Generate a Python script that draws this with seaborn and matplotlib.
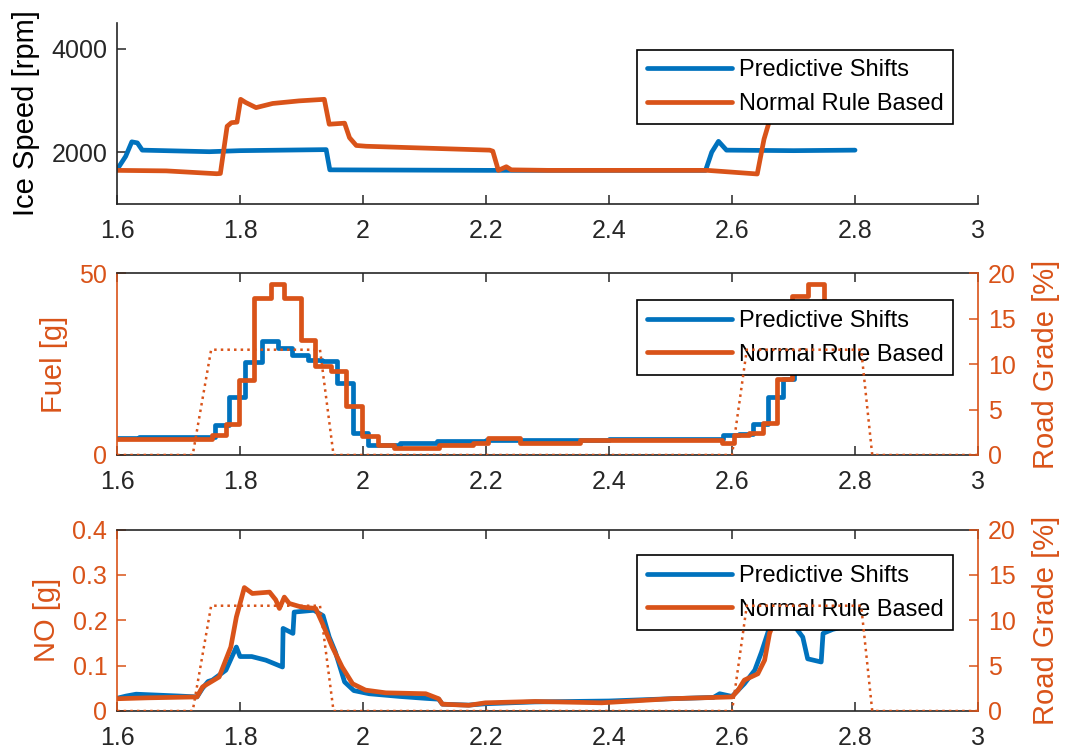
import numpy as np
import matplotlib
matplotlib.use('Agg')
import matplotlib.pyplot as plt
from matplotlib.ticker import FuncFormatter
import seaborn as sns

# colours (MATLAB defaults)
BLUE = '#0072BD'
ORANGE = '#D95319'
DARK = '#262626'

# --- Ice speed [rpm] ---
t_ice_ps = [1.600, 1.614, 1.624, 1.633, 1.641, 1.750, 1.800, 1.940, 1.946, 2.200,
            2.557, 2.567, 2.578, 2.591, 2.700, 2.800]
ice_ps = [1665, 1920, 2200, 2180, 2040, 2010, 2030, 2050, 1660, 1650,
          1650, 2000, 2210, 2040, 2030, 2040]

t_ice_rb = [1.600, 1.680, 1.762, 1.768, 1.779, 1.786, 1.795, 1.801, 1.809, 1.826,
            1.853, 1.896, 1.937, 1.945, 1.970, 1.978, 1.989, 2.005, 2.206, 2.211,
            2.220, 2.233, 2.241, 2.300, 2.560, 2.630, 2.641, 2.652, 2.662, 2.672,
            2.700, 2.750, 2.800]
ice_rb = [1650, 1640, 1585, 1590, 2500, 2570, 2580, 3020, 2960, 2860,
          2940, 2990, 3020, 2540, 2560, 2280, 2130, 2115, 2040, 2020,
          1650, 1720, 1660, 1650, 1650, 1590, 1580, 2250, 2650, 2980,
          3000, 2980, 3020]

# --- Fuel [g] (stepwise) ---
t_fuel_ps = [1.600, 1.635, 1.760, 1.782, 1.808, 1.835, 1.861, 1.885, 1.910, 1.934,
             1.958, 1.984, 2.008, 2.060, 2.120, 2.200, 2.400, 2.586, 2.612, 2.634,
             2.658, 2.683, 2.700, 2.720, 2.745, 2.770, 2.800]
fuel_ps = [4.6, 5.0, 8.3, 16.0, 25.6, 31.3, 29.6, 27.6, 26.3, 26.0,
           19.7, 6.0, 2.8, 3.3, 3.8, 4.2, 4.4, 5.4, 5.8, 8.5,
           16.0, 21.0, 28.0, 31.0, 29.0, 27.0, 27.0]

t_fuel_rb = [1.600, 1.755, 1.777, 1.798, 1.823, 1.850, 1.872, 1.899, 1.922, 1.948,
             1.972, 1.999, 2.024, 2.051, 2.124, 2.179, 2.203, 2.255, 2.353, 2.450,
             2.550, 2.584, 2.604, 2.628, 2.651, 2.673, 2.697, 2.724, 2.749, 2.775,
             2.800]
fuel_rb = [4.3, 5.6, 8.4, 20.6, 43.2, 47.2, 43.2, 31.8, 24.6, 23.2,
           13.5, 5.1, 2.8, 2.0, 2.8, 3.3, 4.6, 3.4, 4.2, 4.0,
           4.2, 3.3, 5.4, 6.0, 8.8, 20.9, 43.7, 47.2, 38.0, 30.0,
           30.0]

# --- NO [g] ---
t_no_ps = [1.600, 1.615, 1.631, 1.700, 1.730, 1.739, 1.748, 1.755, 1.777, 1.794,
           1.800, 1.819, 1.842, 1.869, 1.870, 1.886, 1.888, 1.920, 1.935, 1.945,
           1.955, 1.970, 1.985, 2.010, 2.060, 2.100, 2.123, 2.129, 2.172, 2.200,
           2.280, 2.400, 2.500, 2.570, 2.580, 2.600, 2.620, 2.637, 2.648, 2.660,
           2.680, 2.700, 2.715, 2.723, 2.745, 2.748, 2.764, 2.780]
no_ps = [0.028, 0.033, 0.037, 0.033, 0.031, 0.050, 0.065, 0.068, 0.090, 0.141,
         0.120, 0.120, 0.112, 0.097, 0.182, 0.171, 0.218, 0.222, 0.210, 0.163,
         0.130, 0.064, 0.045, 0.038, 0.032, 0.028, 0.026, 0.015, 0.013, 0.016,
         0.020, 0.022, 0.027, 0.030, 0.038, 0.032, 0.060, 0.090, 0.130, 0.180,
         0.210, 0.190, 0.163, 0.115, 0.108, 0.171, 0.180, 0.185]

t_no_rb = [1.600, 1.650, 1.730, 1.739, 1.766, 1.785, 1.794, 1.807, 1.820, 1.848,
           1.858, 1.864, 1.872, 1.880, 1.900, 1.923, 1.934, 1.950, 1.966, 1.983,
           2.004, 2.037, 2.102, 2.123, 2.129, 2.172, 2.199, 2.280, 2.388, 2.500,
           2.600, 2.610, 2.620, 2.642, 2.653, 2.661, 2.675, 2.700, 2.730, 2.760,
           2.780]
no_rb = [0.027, 0.029, 0.031, 0.053, 0.075, 0.141, 0.207, 0.272, 0.259, 0.262,
         0.245, 0.226, 0.251, 0.237, 0.229, 0.226, 0.193, 0.141, 0.097, 0.060,
         0.046, 0.040, 0.038, 0.027, 0.015, 0.0125, 0.018, 0.021, 0.018, 0.027,
         0.031, 0.046, 0.068, 0.082, 0.112, 0.171, 0.220, 0.250, 0.240, 0.230,
         0.220]

# --- Road grade [%] ---
t_grade = [1.600, 1.723, 1.753, 1.930, 1.952, 2.600, 2.624, 2.810, 2.828, 3.000]
grade = [0, 0, 11.6, 11.6, 0, 0, 11.6, 11.6, 0, 0]

x_ticks = [1.6, 1.8, 2.0, 2.2, 2.4, 2.6, 2.8, 3.0]
labels = ['Predictive Shifts', 'Normal Rule Based']

sns.set_style('ticks')
plt.rcParams['font.family'] = ['Liberation Sans', 'DejaVu Sans']

TICK_FS = 18
LEG_FS = 17
LABEL_FS = 21
LW = 3.4

fig = plt.figure(figsize=(10.67, 7.53), dpi=100)
L, W, H = 0.1097, 0.8069, 0.2410
ax1 = fig.add_axes([L, 0.729, W, H])
ax2 = fig.add_axes([L, 0.3958, W, H])
ax3 = fig.add_axes([L, 0.0558, W, H])


def style_x(ax):
    ax.set_xlim(1.6, 3.0)
    ax.set_xticks(x_ticks)
    ax.xaxis.set_major_formatter(FuncFormatter(lambda v, p: f'{v:g}'))
    ax.tick_params(axis='x', direction='in', length=6.5, width=1.1, colors=DARK,
                   labelsize=TICK_FS, pad=11)


def add_legend(ax, top):
    leg = ax.legend(labels=labels, loc='upper right', bbox_to_anchor=(0.971, top),
                    bbox_transform=ax.transAxes, fontsize=LEG_FS, frameon=True,
                    fancybox=False, framealpha=1, edgecolor='black',
                    labelcolor='black', handlelength=3.6, handletextpad=0.3,
                    labelspacing=0.5, borderpad=0.4, borderaxespad=0)
    leg.get_frame().set_linewidth(1.2)
    return leg


# top: ice speed
sns.lineplot(x=t_ice_ps, y=ice_ps, ax=ax1, color=BLUE, linewidth=LW, estimator=None,
             sort=False, label=labels[0])
sns.lineplot(x=t_ice_rb, y=ice_rb, ax=ax1, color=ORANGE, linewidth=LW, estimator=None,
             sort=False, label=labels[1])
ax1.set_ylim(1000, 4500)
ax1.set_yticks([2000, 4000])
ax1.set_ylabel('Ice Speed [rpm]', fontsize=LABEL_FS, color='black', labelpad=8)
ax1.tick_params(axis='y', direction='in', length=6.5, width=1.1, colors=DARK,
                labelsize=TICK_FS, pad=7)
style_x(ax1)
for s in ['top', 'right']:
    ax1.spines[s].set_visible(False)
for s in ['left', 'bottom']:
    ax1.spines[s].set_color(DARK)
    ax1.spines[s].set_linewidth(1.2)
add_legend(ax1, 0.851)


def lower_panel(ax, t_a, y_a, t_b, y_b, ylim, yticks, ylabel, step, top):
    kw = dict(drawstyle='steps-post') if step else {}
    sns.lineplot(x=t_a, y=y_a, ax=ax, color=BLUE, linewidth=LW, estimator=None,
                 sort=False, label=labels[0], **kw)
    sns.lineplot(x=t_b, y=y_b, ax=ax, color=ORANGE, linewidth=LW, estimator=None,
                 sort=False, label=labels[1], **kw)
    ax.set_ylim(*ylim)
    ax.set_yticks(yticks)
    ax.yaxis.set_major_formatter(FuncFormatter(lambda v, p: f'{v:g}'))
    ax.set_ylabel(ylabel, fontsize=LABEL_FS, color=ORANGE, labelpad=8)
    ax.tick_params(axis='y', direction='in', length=6.5, width=1.1, colors=ORANGE,
                   labelsize=TICK_FS, pad=7)
    style_x(ax)
    ax.tick_params(axis='x', top=True)
    for s in ['top', 'bottom']:
        ax.spines[s].set_color(DARK)
        ax.spines[s].set_linewidth(1.2)
    ax.spines['left'].set_color(ORANGE)
    ax.spines['left'].set_linewidth(1.2)
    ax.spines['right'].set_visible(False)
    add_legend(ax, top)

    # road grade on the right axis, drawn over the legend as in the original
    tw = ax.twinx()
    sns.lineplot(x=t_grade, y=grade, ax=tw, color=ORANGE, linewidth=1.8,
                 linestyle=':', estimator=None, sort=False, legend=False)
    tw.set_ylim(0, 20)
    tw.set_yticks([0, 5, 10, 15, 20])
    tw.set_ylabel('Road Grade [%]', fontsize=LABEL_FS, color=ORANGE, labelpad=12)
    tw.tick_params(axis='y', direction='in', length=6.5, width=1.1, colors=ORANGE,
                   labelsize=TICK_FS, pad=7)
    for s in ['top', 'bottom', 'left']:
        tw.spines[s].set_visible(False)
    tw.spines['right'].set_visible(True)
    tw.spines['right'].set_color(ORANGE)
    tw.spines['right'].set_linewidth(1.2)
    tw.set_xlim(1.6, 3.0)


lower_panel(ax2, t_fuel_ps, fuel_ps, t_fuel_rb, fuel_rb, (0, 50), [0, 50],
            'Fuel [g]', True, 0.852)
lower_panel(ax3, t_no_ps, no_ps, t_no_rb, no_rb, (0, 0.4),
            [0, 0.1, 0.2, 0.3, 0.4], 'NO [g]', False, 0.857)

fig.savefig('out.png', dpi=100)
